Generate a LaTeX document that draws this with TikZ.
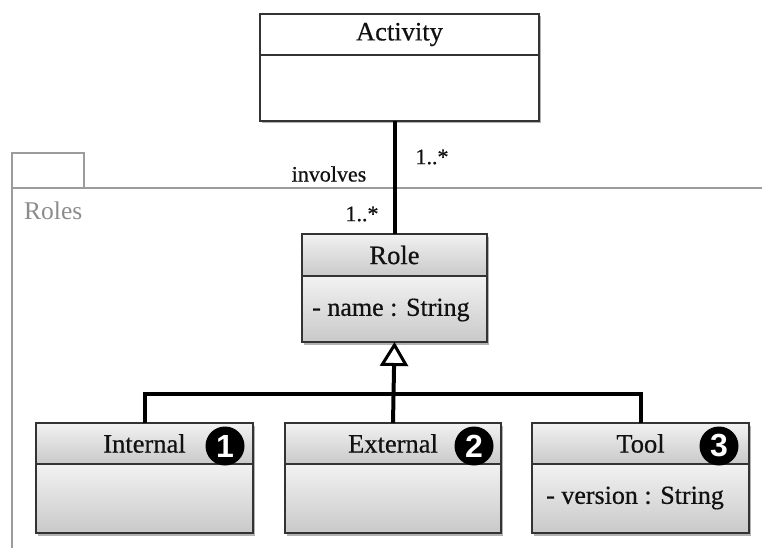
\documentclass[tikz,border=0pt]{standalone}
\usepackage{fontspec}
\setmainfont{Liberation Serif}[BoldFont={Liberation Serif},BoldFeatures={FakeBold=0.6}]
\newfontfamily\badgefont{Liberation Sans}
\usetikzlibrary{arrows.meta,shadows}
\definecolor{boxline}{HTML}{333333}
\definecolor{gtop}{HTML}{F2F2F2}
\definecolor{gbot}{HTML}{C9C9C9}
\definecolor{pkgline}{HTML}{9C9C9C}
\definecolor{pkgtext}{HTML}{8C8C8C}
\definecolor{ink}{HTML}{111111}

\begin{document}
\begin{tikzpicture}[x=1pt,y=-1pt,
  shadowed/.style={drop shadow={shadow xshift=2pt,shadow yshift=-2.5pt,opacity=0.3,fill=black}},
  part/.style={draw=boxline,line width=1.3pt,inner sep=0pt,outer sep=0pt,shadowed,
    text=ink,font=\bfseries\fontsize{26.5}{29}\selectfont},
  shaded/.style={part,top color=gtop,bottom color=gbot},
  plain/.style={part,fill=white},
  attr/.style={text=ink,font=\bfseries\fontsize{26}{29}\selectfont,inner sep=0pt,anchor=west},
  lbl/.style={text=ink,font=\bfseries\fontsize{22}{25}\selectfont,inner sep=0pt},
  badge/.style={circle,fill=black,text=white,inner sep=0pt,minimum size=39pt,
    font=\badgefont\bfseries\fontsize{32}{32}\selectfont},
  link/.style={line width=4pt,draw=black},
  gen/.style={link,-{Triangle[width=28pt,length=24pt,line width=3pt,fill=white]}}
]
\useasboundingbox[fill=white] (0,0) rectangle (762,548);

% package "Roles"
\draw[pkgline,line width=1.2pt] (12,188) rectangle (84,153);
\draw[pkgline,line width=1.2pt] (762,188) -- (12,188) -- (12,548);
\node[text=pkgtext,font=\fontsize{25.5}{28}\selectfont,inner sep=0pt,anchor=west] (pkgname) at (24,211) {Roles};

% Activity
\node[plain,minimum width=279pt,minimum height=41pt] (activityhead) at (399.5,34.5) {Activity};
\node[plain,minimum width=279pt,minimum height=66pt] (activitybody) at (399.5,88) {};

% Role
\node[shaded,minimum width=185pt,minimum height=42pt] (rolehead) at (394.5,255) {Role};
\node[shaded,minimum width=185pt,minimum height=66pt] (rolebody) at (394.5,309) {};
\node[attr] (roleattr) at (312,310) {- name : String};

% Internal
\node[shaded,minimum width=217pt,minimum height=41pt] (internalhead) at (144.5,443.5) {Internal};
\node[shaded,minimum width=217pt,minimum height=69pt] (internalbody) at (144.5,498.5) {};
\node[badge] (n1) at (225,446) {1};

% External
\node[shaded,minimum width=216pt,minimum height=41pt] (externalhead) at (393,443.5) {External};
\node[shaded,minimum width=216pt,minimum height=69pt] (externalbody) at (393,498.5) {};
\node[badge] (n2) at (474,446) {2};

% Tool
\node[shaded,minimum width=217pt,minimum height=41pt] (toolhead) at (640.5,443.5) {Tool};
\node[shaded,minimum width=217pt,minimum height=69pt] (toolbody) at (640.5,498.5) {};
\node[attr] (toolattr) at (546,498) {- version : String};
\node[badge] (n3) at (719,446) {3};

% association Activity -- Role
\draw[link] (rolehead.north) -- (rolehead.north |- activitybody.south);
\node[lbl] (involves) at (329,174) {involves};
\node[lbl] (multtop) at (432,157) {1..*};
\node[lbl] (multrole) at (362,214) {1..*};

% generalization tree
\draw[link] (internalhead.north) -- ++(0,-29) -| (toolhead.north);
\draw[gen] (externalhead.north) -- (rolebody.south);
\end{tikzpicture}
\end{document}
